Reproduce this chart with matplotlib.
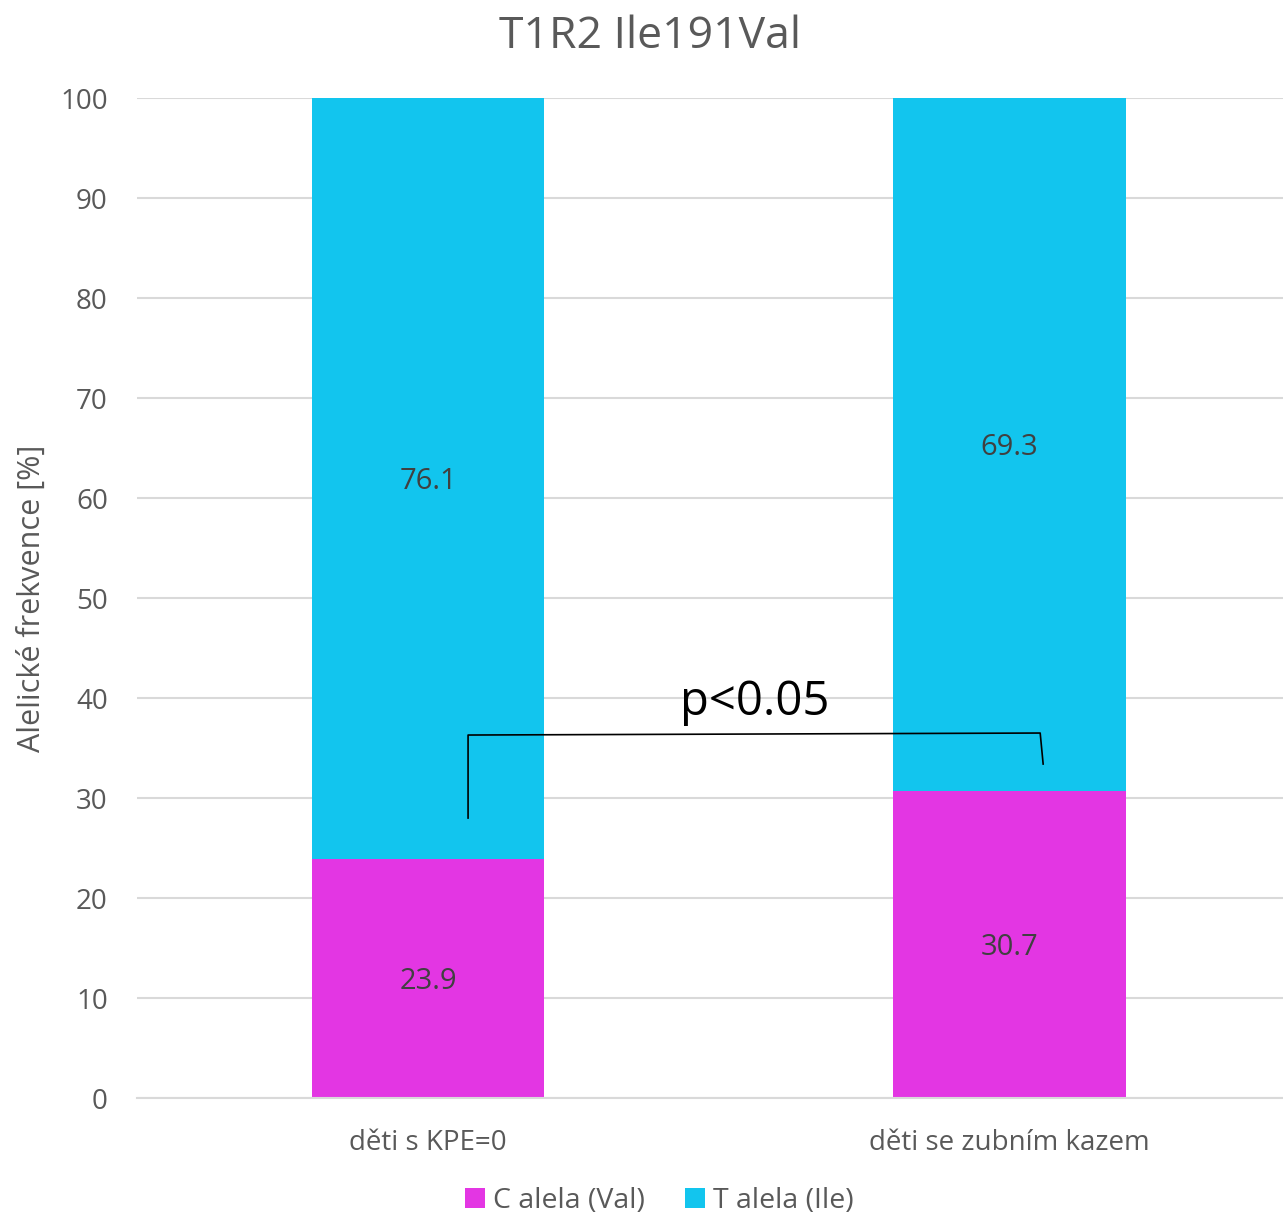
import matplotlib.pyplot as plt

plt.rcParams["font.family"] = ["Open Sans", "DejaVu Sans"]

# allele frequencies (%)
groups = ["děti s KPE=0", "děti se zubním kazem"]
c_allele = [23.9, 30.7]
t_allele = [76.1, 69.3]
series_names = ["C alela (Val)", "T alela (Ile)"]

MAGENTA = "#E336E3"
CYAN = "#12C5EE"
GRID = "#D9D9D9"
TEXT = "#595959"

fig = plt.figure(figsize=(12.83, 12.16), dpi=100)
ax = fig.add_axes([0.1068, 0.097, 0.8932, 0.8224])

x = list(range(len(groups)))
width = 0.4
ax.bar(x, c_allele, width, color=MAGENTA, label=series_names[0], zorder=2)
ax.bar(x, t_allele, width, bottom=c_allele, color=CYAN, label=series_names[1], zorder=2)

for i in x:
    ax.text(i, c_allele[i] / 2 - 0.3, f"{c_allele[i]:.1f}", ha="center", va="center",
            fontsize=21, color="#404040", zorder=3)
    ax.text(i, c_allele[i] + t_allele[i] / 2 - 0.3, f"{t_allele[i]:.1f}", ha="center",
            va="center", fontsize=21, color="#404040", zorder=3)

ax.set_xlim(-0.5004, 1.47)
ax.set_ylim(0, 100)
ax.set_yticks(range(0, 101, 10))
ax.set_xticks(x)
ax.set_xticklabels(groups)
ax.yaxis.grid(True, color=GRID, linewidth=1.5, zorder=0)
ax.set_axisbelow(True)
for side in ["top", "right", "left"]:
    ax.spines[side].set_visible(False)
ax.spines["bottom"].set_color(GRID)
ax.spines["bottom"].set_linewidth(1.5)
ax.tick_params(axis="both", length=0, labelsize=20, colors=TEXT)
ax.tick_params(axis="y", pad=21)
ax.tick_params(axis="x", pad=22)
ax.set_ylabel("Alelické frekvence [%]", fontsize=22, color=TEXT)
ax.yaxis.set_label_coords(-0.079, 0.5)

# significance bracket
ax.plot([0.0688, 0.0688, 1.0525, 1.0576], [28.0, 36.3, 36.5, 33.4],
        color="black", linewidth=1.2, zorder=4)
ax.text(0.562, 39.6, "p<0.05", ha="center", va="center", fontsize=34,
        color="black", zorder=4)

fig.suptitle("T1R2 Ile191Val", x=0.507, y=0.988, fontsize=32, color=TEXT)

fig.legend(loc="center", bbox_to_anchor=(0.514, 0.012), ncol=2, frameon=False,
           fontsize=20.5, labelcolor=TEXT, handlelength=0.7, handleheight=0.7,
           handletextpad=0.3, columnspacing=1.4)

fig.savefig("out.png", dpi=100)
